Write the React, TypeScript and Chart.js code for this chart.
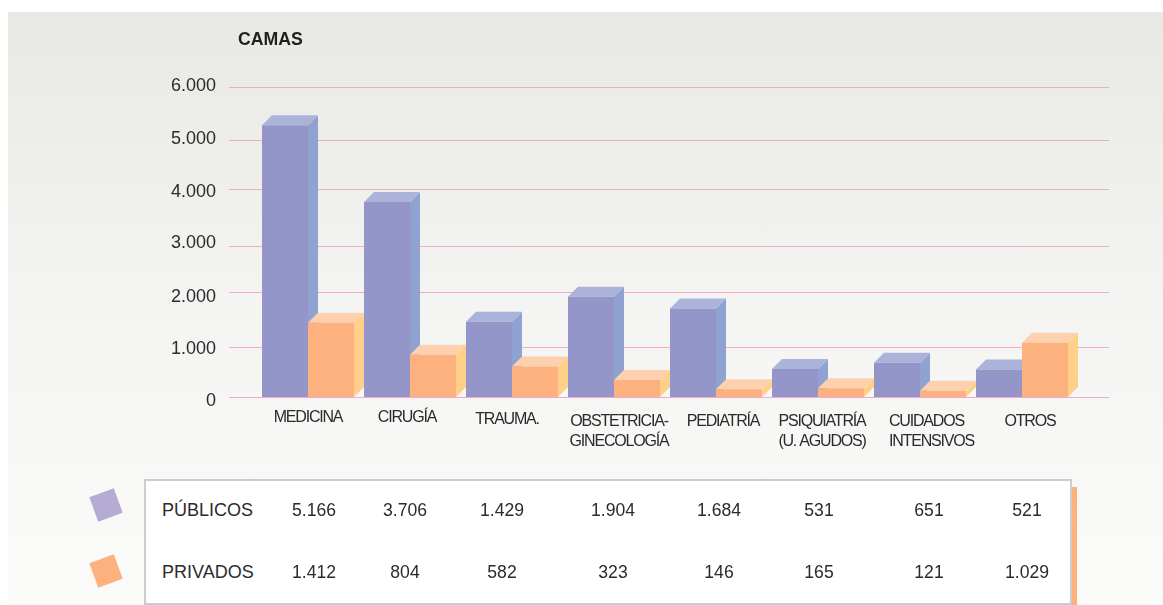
import React, { useEffect, useRef } from "react";
import { Chart, registerables } from "chart.js";

Chart.register(...registerables);

const categories: string[][] = [
  ["MEDICINA"],
  ["CIRUGÍA"],
  ["TRAUMA."],
  ["OBSTETRICIA-", "GINECOLOGÍA"],
  ["PEDIATRÍA"],
  ["PSIQUIATRÍA", "(U. AGUDOS)"],
  ["CUIDADOS", "INTENSIVOS"],
  ["OTROS"],
];
const publicos = [5166, 3706, 1429, 1904, 1684, 531, 651, 521];
const privados = [1412, 804, 582, 323, 146, 165, 121, 1029];
const axisTicks = [0, 1000, 2000, 3000, 4000, 5000, 6000];

const FONT = '"Liberation Sans", Arial, sans-serif';
const TEXT = "#2b2b2b";
const DEPTH = 10;
const PURPLE = { front: "#9496C9", top: "#ABB3DB", side: "#8FA2D1" };
const ORANGE = { front: "#FDB17F", top: "#FDD1AE", side: "#FFD08A" };
const GRID = "#F4A9CC";

// small print offsets of the original's hand-placed axis text and rules
const LABEL_SHIFT_X = [0, -3, -5, 5, 7, 4, 11, 8];
const LABEL_SHIFT_Y = [-4, -4, -2, 0, 0, 0, 0, 0];
const TICK_LABEL_SHIFT_Y = [4, 4, 3, 1.5, 1.5, 0, -1];
const GRID_SHIFT_Y = [0, 2, -2, 4, -1, 1, 0];
const COL_X = [314, 405, 502, 613, 719, 819, 929, 1027];

const fmt = (v: number) => String(v).replace(/\B(?=(\d{3})+$)/, ".");

function drawFaces(ctx: CanvasRenderingContext2D, meta: any, c: typeof PURPLE) {
  for (const el of meta.data) {
    const { x, y, base, width } = el.getProps(["x", "y", "base", "width"], true);
    const l = x - width / 2;
    const r = x + width / 2;
    ctx.fillStyle = c.side;
    ctx.beginPath();
    ctx.moveTo(r, y);
    ctx.lineTo(r + DEPTH, y - DEPTH);
    ctx.lineTo(r + DEPTH, base - DEPTH);
    ctx.lineTo(r, base);
    ctx.closePath();
    ctx.fill();
    ctx.fillStyle = c.top;
    ctx.beginPath();
    ctx.moveTo(l, y);
    ctx.lineTo(l + DEPTH, y - DEPTH);
    ctx.lineTo(r + DEPTH, y - DEPTH);
    ctx.lineTo(r, y);
    ctx.closePath();
    ctx.fill();
  }
}

const depthPlugin = {
  id: "depth",
  beforeDraw(chart: any) {
    const s = chart.scales.yGrid;
    if (!chart.$shifted) {
      chart.scales.x.getLabelItems().forEach((it: any, i: number) => {
        it.options.translation[0] += LABEL_SHIFT_X[i];
        it.options.translation[1] += LABEL_SHIFT_Y[i];
        if (i === 6) {
          it.options.textAlign = "left";
          it.options.translation[0] -= 42;
        }
      });
      s.getLabelItems().forEach((it: any, i: number) => {
        it.options.translation[1] += TICK_LABEL_SHIFT_Y[i];
      });
      chart.$shifted = true;
    }
    const ctx = chart.ctx;
    ctx.save();
    ctx.strokeStyle = GRID;
    ctx.lineWidth = 1;
    s.ticks.forEach((t: any, i: number) => {
      const y = Math.round(s.getPixelForValue(t.value)) + GRID_SHIFT_Y[i] + 0.5;
      ctx.beginPath();
      ctx.moveTo(229, y);
      ctx.lineTo(1109, y);
      ctx.stroke();
    });
    ctx.restore();
  },
  beforeDatasetDraw(chart: any, args: any) {
    if (args.index === 1) return false;
    drawFaces(chart.ctx, chart.getDatasetMeta(0), PURPLE);
  },
  afterDatasetDraw(chart: any, args: any) {
    if (args.index !== 0) return;
    const meta = chart.getDatasetMeta(1);
    drawFaces(chart.ctx, meta, ORANGE);
    meta.data.forEach((el: any) => el.draw(chart.ctx, chart.chartArea));
  },
  afterDatasetsDraw(chart: any) {
    chart.ctx.letterSpacing = "-1.2px";
  },
  afterDraw(chart: any) {
    chart.ctx.letterSpacing = "0px";
  },
};

function Row({ name, values, y }: { name: string; values: number[]; y: number }) {
  const base: React.CSSProperties = {
    position: "absolute",
    top: y - 12,
    height: 24,
    lineHeight: "24px",
    fontSize: 17.6,
    color: TEXT,
    whiteSpace: "nowrap",
  };
  return (
    <>
      <div style={{ ...base, left: 162, fontSize: 18 }}>{name}</div>
      {values.map((v, i) => (
        <div key={i} style={{ ...base, left: COL_X[i] - 50, width: 100, textAlign: "center" }}>
          {fmt(v)}
        </div>
      ))}
    </>
  );
}

export default function App() {
  const ref = useRef<HTMLCanvasElement>(null);
  useEffect(() => {
    const chart = new Chart(ref.current!, {
      type: "bar",
      data: {
        labels: categories,
        datasets: [
          { label: "PÚBLICOS", data: publicos, backgroundColor: PURPLE.front, yAxisID: "y" },
          { label: "PRIVADOS", data: privados, backgroundColor: ORANGE.front, yAxisID: "y" },
        ],
      },
      plugins: [depthPlugin],
      options: {
        animation: false,
        responsive: false,
        events: [],
        layout: { padding: { top: 87, right: 90, left: 0, bottom: 0 } },
        datasets: { bar: { categoryPercentage: 92 / 102, barPercentage: 1 } },
        plugins: { legend: { display: false }, title: { display: false }, tooltip: { enabled: false } },
        scales: {
          x: {
            grid: { display: false },
            border: { display: false },
            afterFit: (s: any) => { s.height = 208; },
            ticks: {
              z: 1,
              autoSkip: false,
              maxRotation: 0,
              minRotation: 0,
              padding: 7,
              color: TEXT,
              font: { family: FONT, size: 16, lineHeight: 1.25 },
            },
          },
          y: { display: false, min: 0, max: 5893 },
          yGrid: {
            position: "left",
            min: 0,
            max: 6000,
            afterBuildTicks: (s: any) => { s.ticks = axisTicks.map((value) => ({ value })); },
            afterFit: (s: any) => { s.width = 257; },
            grid: { display: false },
            border: { display: false },
            ticks: {
              padding: 33,
              color: TEXT,
              font: { family: FONT, size: 18 },
              callback: (v: any) => fmt(Number(v)),
            },
          },
        },
      } as any,
    });
    return () => chart.destroy();
  }, []);

  return (
    <div
      style={{
        position: "absolute",
        left: 0,
        top: 0,
        width: 1163,
        height: 605,
        overflow: "hidden",
        background: "#fff",
        fontFamily: FONT,
      }}
    >
      <div
        style={{
          position: "absolute",
          left: 8,
          top: 12,
          right: 0,
          bottom: 0,
          background: "linear-gradient(#E8E8E4 0%, #F4F4F2 50%, #FBFBF9 100%)",
        }}
      />
      <canvas ref={ref} width={1163} height={605} style={{ position: "absolute", left: 0, top: 0 }} />
      <div
        style={{
          position: "absolute",
          left: 238,
          top: 28,
          fontSize: 17.7,
          fontWeight: 700,
          lineHeight: "22px",
          color: "#231f20",
        }}
      >
        CAMAS
      </div>
      <div style={{ position: "absolute", left: 1071, top: 487, width: 6, height: 118, background: "#FDB17F" }} />
      <div
        style={{
          position: "absolute",
          left: 144,
          top: 479,
          width: 924,
          height: 122,
          background: "#fff",
          border: "2px solid #C9CCD2",
        }}
      />
      <div
        style={{
          position: "absolute",
          left: 93,
          top: 492,
          width: 26,
          height: 26,
          background: "#B6ABD4",
          transform: "rotate(-20deg)",
        }}
      />
      <div
        style={{
          position: "absolute",
          left: 93,
          top: 558,
          width: 26,
          height: 26,
          background: "#FDB17F",
          transform: "rotate(-20deg)",
        }}
      />
      <Row name="PÚBLICOS" values={publicos} y={510} />
      <Row name="PRIVADOS" values={privados} y={572} />
    </div>
  );
}
